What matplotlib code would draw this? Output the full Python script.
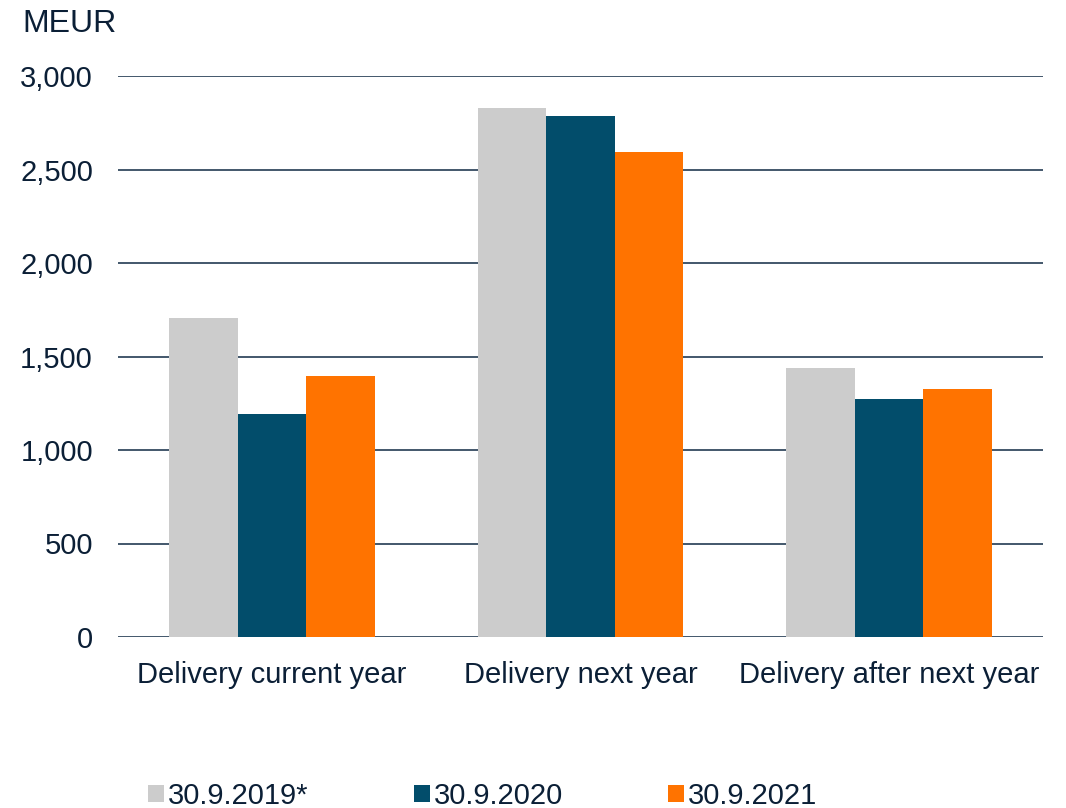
import matplotlib
matplotlib.use("Agg")
import matplotlib.pyplot as plt
import numpy as np

plt.rcParams['font.family'] = ['Liberation Sans', 'DejaVu Sans']

categories = ["Delivery current year", "Delivery next year", "Delivery after next year"]
series_labels = ["30.9.2019*", "30.9.2020", "30.9.2021"]
values_2019 = [1705, 2831, 1440]
values_2020 = [1194, 2788, 1274]
values_2021 = [1398, 2592, 1324]
yticks = [0, 500, 1000, 1500, 2000, 2500, 3000]

colors = ["#cccccc", "#024d6b", "#ff7300"]
text_color = "#0b1f36"
grid_color = "#0f2a44"

fig = plt.figure(figsize=(10.66, 8.08), dpi=100)
ax = fig.add_axes([118/1066, 1-637/808, (1043-118)/1066, (637-76)/808])

x = np.arange(len(categories))
bw = 1/4.5
handles = []
for i, (vals, lab, col) in enumerate(zip([values_2019, values_2020, values_2021], series_labels, colors)):
    h = ax.bar(x + (i-1)*bw, vals, width=bw, color=col, label=lab, zorder=3)
    handles.append(h)

ax.set_xlim(-0.5, len(categories)-0.5)
ax.set_ylim(0, 3000)
ax.set_yticks(yticks)
ax.set_yticklabels([f"{v:,}" for v in yticks])
ax.set_xticks(x)
ax.set_xticklabels(categories)
ax.tick_params(axis='both', length=0, labelsize=21, colors=text_color)
ax.tick_params(axis='y', pad=18)
ax.tick_params(axis='x', pad=17)
for s in ax.spines.values():
    s.set_visible(False)
ax.set_axisbelow(True)
ax.yaxis.grid(True, color=grid_color, linewidth=1.1)

fig.text(22/1066, 1-24/808, "MEUR", fontsize=23, color=text_color, va='center', ha='left')

leg = fig.legend(handles, series_labels, ncol=3, loc='center left',
                 bbox_to_anchor=(148/1066, 1-796/808), frameon=False,
                 fontsize=21, handlelength=0.55, handleheight=0.55,
                 handletextpad=0.14, columnspacing=3.6, borderaxespad=0, borderpad=0)
for t in leg.get_texts():
    t.set_color(text_color)

fig.savefig("out.png", dpi=100)
